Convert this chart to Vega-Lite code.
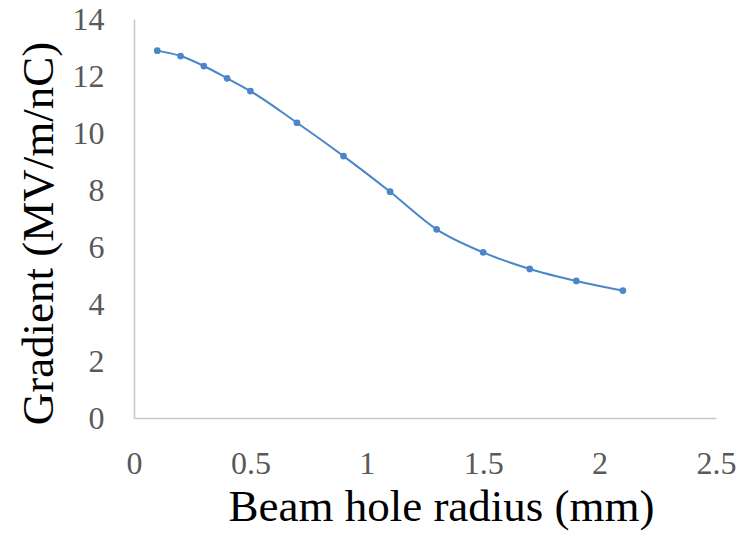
{
  "$schema": "https://vega.github.io/schema/vega-lite/v6.json",
  "width": 582,
  "height": 399,
  "autosize": {"type": "none"},
  "padding": {"left": 134, "top": 19, "right": 27, "bottom": 115},
  "background": "white",
  "config": {
    "view": {"stroke": null},
    "font": "Liberation Serif"
  },
  "data": {
    "values": [
      {"radius": 0.1, "gradient": 12.89},
      {"radius": 0.2, "gradient": 12.70},
      {"radius": 0.3, "gradient": 12.35},
      {"radius": 0.4, "gradient": 11.92},
      {"radius": 0.5, "gradient": 11.47},
      {"radius": 0.7, "gradient": 10.36},
      {"radius": 0.9, "gradient": 9.19},
      {"radius": 1.1, "gradient": 7.94},
      {"radius": 1.3, "gradient": 6.62},
      {"radius": 1.5, "gradient": 5.81},
      {"radius": 1.7, "gradient": 5.23},
      {"radius": 1.9, "gradient": 4.81},
      {"radius": 2.1, "gradient": 4.47}
    ]
  },
  "encoding": {
    "x": {
      "field": "radius",
      "type": "quantitative",
      "scale": {"domain": [0, 2.5], "nice": false, "zero": false},
      "axis": {
        "title": "Beam hole radius (mm)",
        "values": [0, 0.5, 1, 1.5, 2, 2.5],
        "format": "~g",
        "grid": false,
        "ticks": false,
        "tickSize": 0,
        "domainColor": "#c8c8c8",
        "domainWidth": 1.5,
        "labelFont": "Liberation Serif",
        "labelFontSize": 32,
        "labelColor": "#595959",
        "labelBaseline": "alphabetic",
        "labelPadding": 55,
        "labelFlush": false,
        "labelOverlap": false,
        "titleFont": "Liberation Serif",
        "titleFontSize": 45,
        "titleFontWeight": "normal",
        "titleColor": "#000000",
        "titleBaseline": "alphabetic",
        "titleAlign": "center",
        "titleX": 307,
        "titleY": 102
      }
    },
    "y": {
      "field": "gradient",
      "type": "quantitative",
      "scale": {"domain": [0, 14], "nice": false},
      "axis": {
        "title": "Gradient (MV/m/nC)",
        "values": [0, 2, 4, 6, 8, 10, 12, 14],
        "grid": false,
        "ticks": false,
        "tickSize": 0,
        "domainColor": "#c8c8c8",
        "domainWidth": 1.5,
        "labelFont": "Liberation Serif",
        "labelFontSize": 32,
        "labelColor": "#595959",
        "labelBaseline": "middle",
        "labelAlign": "right",
        "labelPadding": 30,
        "labelFlush": false,
        "labelOverlap": false,
        "titleFont": "Liberation Serif",
        "titleFontSize": 45,
        "titleFontWeight": "normal",
        "titleColor": "#000000",
        "titleAngle": -90,
        "titleBaseline": "alphabetic",
        "titleAlign": "center",
        "titleX": -82,
        "titleY": 214
      }
    }
  },
  "layer": [
    {
      "mark": {"type": "line", "interpolate": "monotone", "color": "#4a86c8", "strokeWidth": 2}
    },
    {
      "mark": {"type": "point", "filled": true, "shape": "circle", "size": 45, "color": "#4a86c8", "opacity": 1}
    }
  ]
}
